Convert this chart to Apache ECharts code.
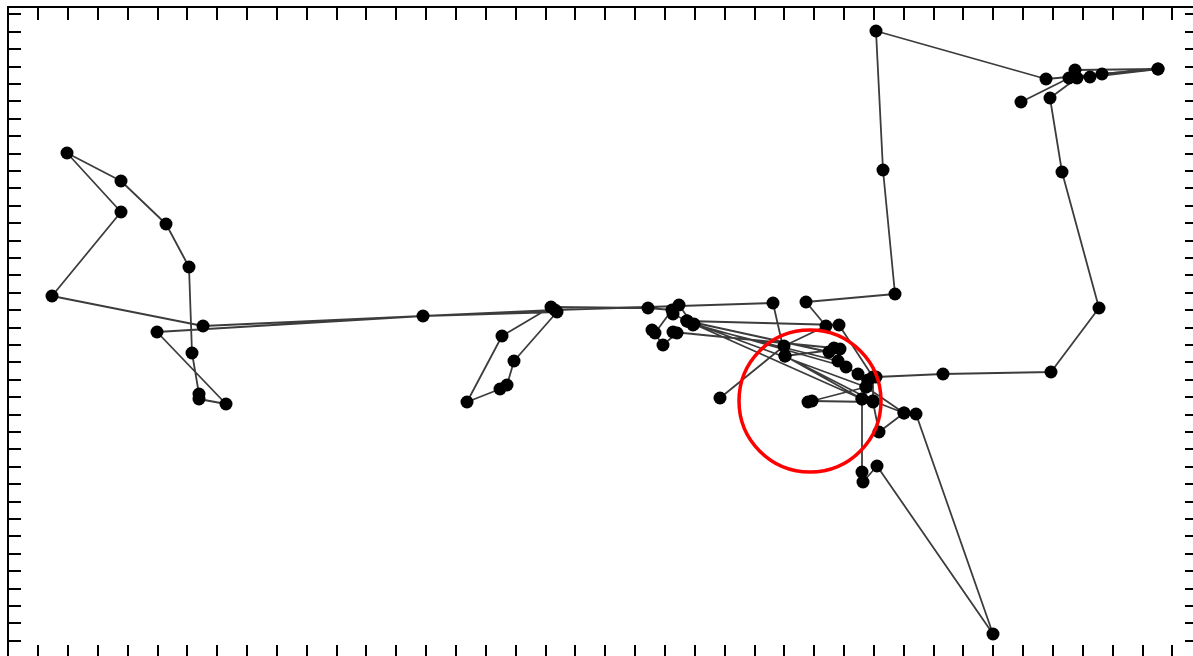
<!DOCTYPE html>
<html>
<head>
<meta charset="utf-8">
<script src="https://cdn.jsdelivr.net/npm/echarts@6/dist/echarts.min.js"></script>
<style>
html,body{margin:0;padding:0;background:#fff;}
#chart{width:1193px;height:656px;}
</style>
</head>
<body>
<div id="chart"></div>
<script>
// Main track (x, y in plot units)
const trackX = [712,776,818,798,887,875,868,1038,1150,1082,1069,1042,1054,1091,1043,935,868,860,854,854,855,869,985,908,896,871,865,804,800,858,850,838,686,679,821,826,665,669,655,644,647,664,640,543,494,459,492,499,506,549,415,149,218,191,191,184,181,158,113,59,113,44,195,547,765,777,832,830,685,671,665,679,831,865,865,896,858,679,854,777,865];
const trackY = [260,312,332,356,364,488,627,579,589,581,580,560,486,350,286,284,281,278,259,186,176,192,24,244,245,226,256,257,256,271,284,291,334,337,306,310,326,325,313,328,325,348,350,351,322,256,269,273,297,346,342,326,254,259,264,305,391,434,477,505,446,362,332,348,355,302,309,297,333,353,344,337,333,281,257,245,271,337,259,302,257];
// Second track piece (upper right)
const tailX = [1067,1150,1094,1061,1013];
const tailY = [588,589,584,580,556];
// Highlighted point
const markX = [802];
const markY = [257];
// Axis extents and tick steps
const xMax = 1190, xStep = 29.85;
const yMax = 651, yStep = 17.4;

const zip = (a, b) => a.map((v, i) => [v, b[i]]);

const axisCommon = {
  type: 'value', min: 0,
  axisLine: {show: true, onZero: false, lineStyle: {color: '#000', width: 2}},
  axisTick: {show: true, inside: true, length: 13, lineStyle: {color: '#000', width: 2}},
  axisLabel: {show: false},
  splitLine: {show: false}
};

const lineStyleCommon = {color: '#3c3c3c', width: 1.8};
const chart = echarts.init(document.getElementById('chart'));
chart.setOption({
  animation: false,
  backgroundColor: '#fff',
  grid: {left: 8, top: 7, width: 1190, height: 651, containLabel: false, outerBoundsMode: 'none'},
  xAxis: [
    Object.assign({}, axisCommon, {max: xMax, interval: xStep, position: 'bottom'}),
    Object.assign({}, axisCommon, {max: xMax, interval: xStep, position: 'top'})
  ],
  yAxis: [
    Object.assign({}, axisCommon, {max: yMax, interval: yStep, position: 'left'}),
    Object.assign({}, axisCommon, {max: yMax, interval: yStep, position: 'right'})
  ],
  series: [
    {
      type: 'line', data: zip(trackX, trackY), symbol: 'circle', symbolSize: 13, showSymbol: true,
      itemStyle: {color: '#000'}, lineStyle: lineStyleCommon, z: 2
    },
    {
      type: 'line', data: zip(tailX, tailY), symbol: 'circle', symbolSize: 13, showSymbol: true,
      itemStyle: {color: '#000'}, lineStyle: lineStyleCommon, z: 2
    },
    {
      type: 'scatter', data: zip(markX, markY), symbol: 'circle', symbolSize: 142,
      itemStyle: {color: 'rgba(0,0,0,0)', borderColor: '#ff0000', borderWidth: 3.5, opacity: 1}, z: 5, silent: true
    }
  ]
});
</script>
</body>
</html>
